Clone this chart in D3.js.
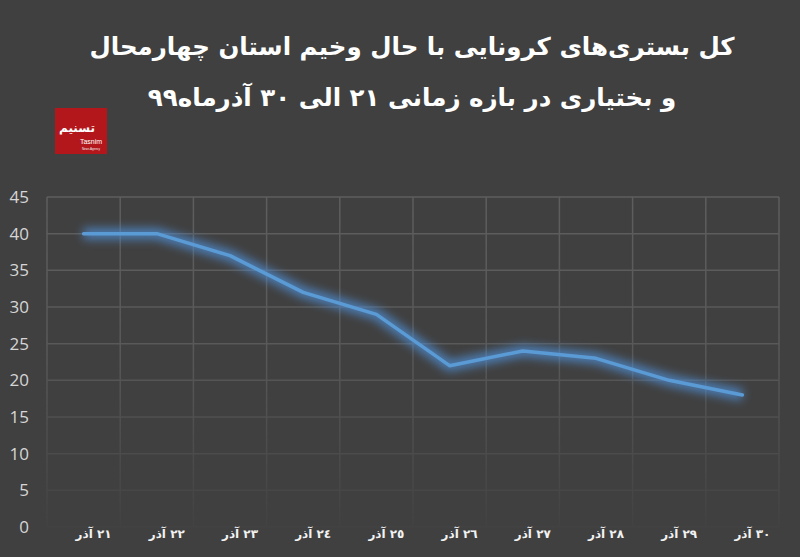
<!DOCTYPE html>
<html>
<head>
<meta charset="utf-8">
<script src="https://cdn.jsdelivr.net/npm/d3@7"></script>
<style>
  html, body { margin: 0; padding: 0; background: #404040; }
  svg { display: block; }
</style>
</head>
<body>
<div id="chart"></div>
<script>
// Chart data
const titleLines = [
    'کل بستری‌های کرونایی با حال وخیم استان چهارمحال',
    'و بختیاری در بازه زمانی ۲۱ الی ۳۰ آذرماه۹۹'
];
const days = ['٢١ آذر', '٢٢ آذر', '٢٣ آذر', '٢٤ آذر', '٢٥ آذر', '٢٦ آذر', '٢٧ آذر', '٢٨ آذر', '٢٩ آذر', '٣٠ آذر'];
const patients = [40, 40, 37, 32, 29, 22, 24, 23, 20, 18];
const yTicks = [0, 5, 10, 15, 20, 25, 30, 35, 40, 45];

function drawChart() {
    const width = 800, height = 557;
    const plot = { left: 47, right: 779, top: 197, bottom: 527 };

    const svg = d3.select('#chart')
        .append('svg')
        .attr('width', width)
        .attr('height', height);

    const defs = svg.append('defs');

    // glow around the line
    const glow = defs.append('filter')
        .attr('id', 'glow')
        .attr('x', '-10%').attr('y', '-50%')
        .attr('width', '120%').attr('height', '200%');
    glow.append('feGaussianBlur').attr('stdDeviation', 5);

    // grid fades out towards the bottom
    const fade = defs.append('linearGradient')
        .attr('id', 'fade')
        .attr('gradientUnits', 'userSpaceOnUse')
        .attr('x1', 0).attr('y1', plot.top)
        .attr('x2', 0).attr('y2', plot.bottom);
    fade.append('stop').attr('offset', '0%').attr('stop-color', '#fff').attr('stop-opacity', 1);
    fade.append('stop').attr('offset', '45%').attr('stop-color', '#fff').attr('stop-opacity', 0.85);
    fade.append('stop').attr('offset', '100%').attr('stop-color', '#fff').attr('stop-opacity', 0.08);
    defs.append('mask')
        .attr('id', 'gridMask')
        .attr('maskUnits', 'userSpaceOnUse')
        .append('rect')
        .attr('x', 0).attr('y', 0)
        .attr('width', width).attr('height', height)
        .attr('fill', 'url(#fade)');

    svg.append('rect')
        .attr('width', width)
        .attr('height', height)
        .attr('fill', '#404040');

    // Title
    svg.selectAll('.title')
        .data(titleLines)
        .enter()
        .append('text')
        .attr('class', 'title')
        .attr('x', 412)
        .attr('y', (d, i) => 55 + i * 51)
        .attr('direction', 'rtl')
        .attr('text-anchor', 'middle')
        .style('font-family', '"DejaVu Sans", sans-serif')
        .style('font-weight', 'bold')
        .style('font-size', '24.5px')
        .style('fill', '#ffffff')
        .text(d => d);

    // Logo
    const logo = svg.append('g').attr('transform', 'translate(55,108)');
    logo.append('rect')
        .attr('width', 52).attr('height', 46)
        .attr('fill', '#b3171c');
    logo.append('text')
        .attr('x', 22).attr('y', 24)
        .attr('direction', 'rtl')
        .attr('text-anchor', 'middle')
        .style('font-family', '"DejaVu Sans", sans-serif')
        .style('font-weight', 'bold')
        .style('font-size', '12px')
        .style('fill', '#fff')
        .text('تسنیم');
    logo.append('text')
        .attr('x', 36).attr('y', 36)
        .attr('text-anchor', 'middle')
        .style('font-family', '"Liberation Sans", sans-serif')
        .style('font-size', '7px')
        .style('fill', '#fff')
        .text('Tasnim');
    logo.append('text')
        .attr('x', 36).attr('y', 42)
        .attr('text-anchor', 'middle')
        .style('font-family', '"Liberation Sans", sans-serif')
        .style('font-size', '3px')
        .style('fill', '#eee')
        .text('News Agency');

    // Scales
    const x = d3.scaleBand()
        .domain(days)
        .range([plot.left, plot.right]);

    const y = d3.scaleLinear()
        .domain([0, 45])
        .range([plot.bottom, plot.top]);

    // Grid
    const grid = svg.append('g').attr('mask', 'url(#gridMask)');
    grid.selectAll('.hgrid')
        .data(yTicks)
        .enter()
        .append('line')
        .attr('x1', plot.left).attr('x2', plot.right)
        .attr('y1', d => y(d)).attr('y2', d => y(d))
        .attr('stroke', '#5e5e5e')
        .attr('stroke-width', 1.5);
    const vEdges = days.map(d => x(d)).concat([plot.right]);
    grid.selectAll('.vgrid')
        .data(vEdges)
        .enter()
        .append('line')
        .attr('x1', d => d).attr('x2', d => d)
        .attr('y1', plot.top).attr('y2', plot.bottom)
        .attr('stroke', '#5e5e5e')
        .attr('stroke-width', 1.5);

    // Y axis
    const yAxis = svg.append('g')
        .attr('transform', 'translate(29,0)')
        .call(d3.axisLeft(y).tickValues(yTicks).tickSize(0).tickPadding(0));
    yAxis.select('.domain').remove();
    yAxis.selectAll('text')
        .style('font-family', '"Open Sans", sans-serif')
        .style('font-size', '17px')
        .style('fill', '#d6d6d6');

    // X axis labels
    const xAxis = svg.append('g')
        .attr('transform', 'translate(10,' + 529 + ')')
        .call(d3.axisBottom(x).tickSize(0).tickPadding(0));
    xAxis.select('.domain').remove();
    xAxis.selectAll('text')
        .attr('direction', 'rtl')
        .style('font-family', '"DejaVu Sans", sans-serif')
        .style('font-weight', 'bold')
        .style('font-size', '12px')
        .style('fill', '#f2f2f2');

    // Line
    const line = d3.line()
        .x((d, i) => x(days[i]) + x.bandwidth() / 2)
        .y(d => y(d));

    svg.append('path')
        .datum(patients)
        .attr('fill', 'none')
        .attr('stroke', '#4f8fd6')
        .attr('stroke-opacity', 0.8)
        .attr('stroke-width', 11)
        .attr('stroke-linejoin', 'round')
        .attr('filter', 'url(#glow)')
        .attr('d', line);

    svg.append('path')
        .datum(patients)
        .attr('fill', 'none')
        .attr('stroke', '#5b9bd5')
        .attr('stroke-width', 3.5)
        .attr('stroke-linejoin', 'round')
        .attr('stroke-linecap', 'round')
        .attr('d', line);
}

drawChart();
</script>
</body>
</html>
